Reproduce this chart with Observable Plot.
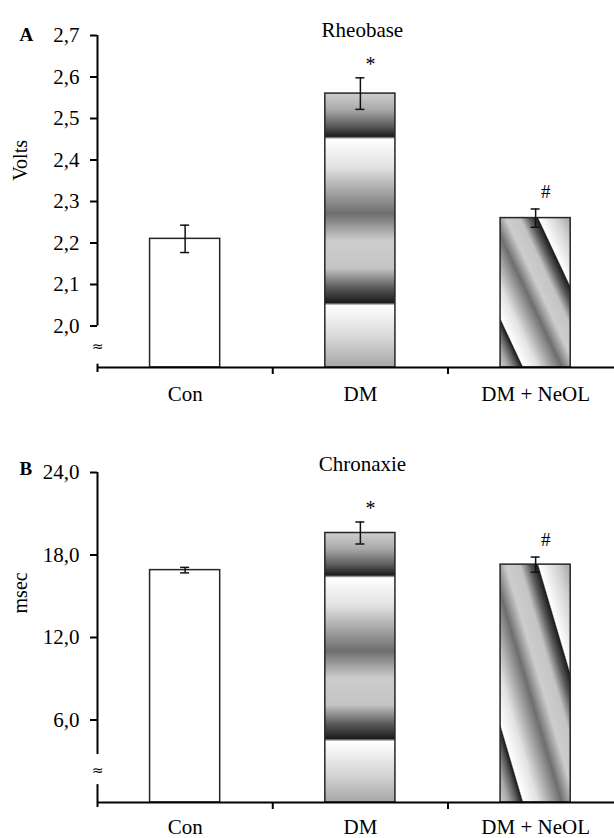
<!DOCTYPE html>
<html>
<head>
<meta charset="utf-8">
<script src="https://cdn.jsdelivr.net/npm/d3@7"></script>
<script src="https://cdn.jsdelivr.net/npm/@observablehq/plot@0.6"></script>
<style>
  html, body { margin: 0; padding: 0; background: #ffffff; }
  #chart { width: 614px; }
  #chart svg { display: block; }
</style>
</head>
<body>
<div id="chart"></div>
<script>
// ---- data ----
const categories = ["Con", "DM", "DM + NeOL"];
const significance = ["", "*", "#"];

const rheobaseMean = [2.21, 2.56, 2.26];
const rheobaseErr = [0.033, 0.038, 0.022];
const rheobaseTicks = [2.0, 2.1, 2.2, 2.3, 2.4, 2.5, 2.6, 2.7];

const chronaxieMean = [16.9, 19.6, 17.3];
const chronaxieErr = [0.2, 0.8, 0.55];
const chronaxieTicks = [6, 12, 18, 24];

// ---- styling constants ----
const FONT = "'Liberation Serif', 'Times New Roman', serif";
const chromeStops = [
  [0.00, "#cfcfcf"], [0.06, "#a9a9a9"], [0.12, "#5c5c5c"], [0.158, "#1c1c1c"],
  [0.168, "#ffffff"], [0.27, "#e2e2e2"], [0.44, "#6e6e6e"], [0.54, "#cdcdcd"],
  [0.64, "#c4c4c4"], [0.71, "#5a5a5a"], [0.765, "#1c1c1c"], [0.775, "#ffffff"],
  [0.90, "#d4d4d4"], [1.00, "#a6a6a6"]
];

const comma = v => d3.format(".1f")(v).replace(".", ",");

function addGradients(svg, prefix) {
  const defs = d3.select(svg).insert("defs", ":first-child");
  const specs = [
    {id: prefix + "V", x1: 0, y1: 0, x2: 0, y2: 1},
    {id: prefix + "D", x1: 0, y1: 1, x2: 1, y2: 0}
  ];
  for (const s of specs) {
    const g = defs.append("linearGradient")
      .attr("id", s.id)
      .attr("x1", s.x1).attr("y1", s.y1).attr("x2", s.x2).attr("y2", s.y2);
    for (const [o, c] of chromeStops) g.append("stop").attr("offset", o).attr("stop-color", c);
  }
}

function panel(cfg) {
  const idx = categories.map((_, i) => i);
  const base = cfg.domain[0];
  const fills = ["#ffffff", `url(#${cfg.prefix}V)`, `url(#${cfg.prefix}D)`];
  const axisMin = cfg.ticks[0] < cfg.axisLineBottom ? cfg.ticks[0] : cfg.axisLineBottom;
  const axisMax = cfg.ticks[cfg.ticks.length - 1];
  const half = 0.2;

  const marks = [
    // bars
    ...idx.map(i => Plot.rect([i], {
      x1: d => d - half, x2: d => d + half,
      y1: base, y2: d => cfg.mean[d],
      fill: fills[i], stroke: "#262626", strokeWidth: 1.5
    })),
    // error bars
    Plot.ruleX(idx, {x: i => i, y1: i => cfg.mean[i] - cfg.err[i], y2: i => cfg.mean[i] + cfg.err[i], stroke: "#111", strokeWidth: 1.5}),
    Plot.ruleY(idx, {y: i => cfg.mean[i] + cfg.err[i], x1: i => i, x2: i => i, insetLeft: -4.5, insetRight: -4.5, stroke: "#111", strokeWidth: 1.5}),
    Plot.ruleY(idx, {y: i => cfg.mean[i] - cfg.err[i], x1: i => i, x2: i => i, insetLeft: -4.5, insetRight: -4.5, stroke: "#111", strokeWidth: 1.5}),
    // significance marks
    Plot.text(idx.filter(i => significance[i] === "*"), {x: i => i, y: i => cfg.mean[i] + cfg.err[i], text: i => significance[i], dx: 10, dy: -13, fontSize: 20}),
    Plot.text(idx.filter(i => significance[i] === "#"), {x: i => i, y: i => cfg.mean[i] + cfg.err[i], text: i => significance[i], dx: 10, dy: -17, fontSize: 19}),
    // y axis line (broken)
    Plot.ruleX([-0.5], {y1: axisMin, y2: axisMax, stroke: "#000", strokeWidth: 2}),
    Plot.ruleX([-0.5], {y1: cfg.segTop, y2: base, insetBottom: -5, stroke: "#000", strokeWidth: 2}),
    Plot.text(["≈"], {x: -0.5, y: cfg.breakAt, text: d => d, fontSize: 14, fontFamily: "DejaVu Sans"}),
    // y ticks + labels
    Plot.ruleY(cfg.ticks, {y: d => d, x1: -0.5, x2: -0.5, insetLeft: -7, stroke: "#000", strokeWidth: 2}),
    Plot.text(cfg.ticks, {x: -0.5, y: d => d, text: comma, textAnchor: "end", dx: -18}),
    // x axis line + boundary ticks + labels
    Plot.ruleY([base], {x1: -0.5, x2: cfg.xDomain[1], stroke: "#000", strokeWidth: 2}),
    Plot.ruleX([0.5, 1.5], {x: d => d, y1: base, y2: base, insetBottom: -7, stroke: "#000", strokeWidth: 2}),
    Plot.text(idx, {x: i => i, y: base, text: i => categories[i], dy: cfg.labelDy}),
    // title, panel letter, y label
    Plot.text([cfg.title], {x: 1, y: axisMax, text: d => d, dx: 2, dy: cfg.titleDy}),
    Plot.text([cfg.letter], {frameAnchor: "top-left", text: d => d, dx: -78, dy: cfg.letterDy, fontWeight: "bold", fontSize: 19}),
    Plot.text([cfg.ylabel], {frameAnchor: "left", y: (axisMin + axisMax) / 2, text: d => d, rotate: -90, dx: -77, fontSize: 20})
  ];

  const el = Plot.plot({
    width: 614,
    height: cfg.height,
    marginLeft: 97,
    marginRight: 0,
    marginTop: cfg.marginTop,
    marginBottom: cfg.marginBottom,
    x: {domain: cfg.xDomain, axis: null},
    y: {domain: cfg.domain, axis: null},
    style: {fontFamily: FONT, fontSize: "21px", background: "#ffffff", color: "#000", overflow: "visible"},
    marks
  });
  const svg = el.tagName.toLowerCase() === "svg" ? el : el.querySelector("svg");
  addGradients(svg, cfg.prefix);
  return el;
}

const chart = document.getElementById("chart");
chart.appendChild(panel({
  prefix: "rb",
  mean: rheobaseMean, err: rheobaseErr, ticks: rheobaseTicks,
  domain: [1.9, 2.7], xDomain: [-0.5, 2.45],
  axisLineBottom: 2.0, segTop: 1.908, breakAt: 1.95,
  title: "Rheobase", titleDy: -5, letter: "A", letterDy: -8, ylabel: "Volts",
  labelDy: 27,
  height: 403, marginTop: 35, marginBottom: 36
}));
chart.appendChild(panel({
  prefix: "cx",
  mean: chronaxieMean, err: chronaxieErr, ticks: chronaxieTicks,
  domain: [0, 24], xDomain: [-0.5, 2.45],
  axisLineBottom: 3.5, segTop: 1.3, breakAt: 2.3,
  title: "Chronaxie", titleDy: -8, letter: "B", letterDy: -11, ylabel: "msec",
  labelDy: 25,
  height: 435, marginTop: 69, marginBottom: 36
}));
</script>
</body>
</html>
